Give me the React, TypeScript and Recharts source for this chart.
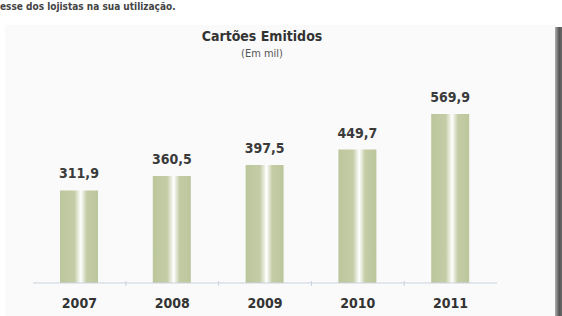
import React from 'react';
import { BarChart, Bar, XAxis, YAxis, LabelList } from 'recharts';

const years = ['2007', '2008', '2009', '2010', '2011'];
const cards = [311.9, 360.5, 397.5, 449.7, 569.9];

const data = years.map((year, i) => ({ year, value: cards[i] }));

const font = '"DejaVu Sans Condensed", "Liberation Sans", sans-serif';

const YearTick = (props: any) => {
  const { x, y, payload, index } = props;
  const half = payload && payload.offset ? payload.offset : 46.4;
  return (
    <g>
      {index > 0 && (
        <line x1={x - half} x2={x - half} y1={y - 2} y2={y + 3} stroke="#c9d3de" strokeWidth={1} />
      )}
      <text
        x={x}
        y={y + 20}
        textAnchor="middle"
        dominantBaseline="central"
        fontFamily={font}
        fontWeight="bold"
        fontSize={14}
        fill="#333"
      >
        {payload.value}
      </text>
    </g>
  );
};

const App: React.FC = () => {
  return (
    <div
      style={{
        position: 'absolute',
        left: 0,
        top: 0,
        width: 562,
        height: 316,
        overflow: 'hidden',
        background: '#fff',
        fontFamily: font,
      }}
    >
      <div
        style={{
          position: 'absolute',
          left: 0,
          top: 1,
          fontSize: 10,
          lineHeight: '12px',
          fontWeight: 'bold',
          color: '#444',
        }}
      >
        esse dos lojistas na sua utilização.
      </div>
      <div
        style={{
          position: 'absolute',
          left: 5,
          top: 25,
          width: 551,
          height: 291,
          background: '#fafafa',
        }}
      />
      <div
        style={{
          position: 'absolute',
          left: 555,
          top: 27,
          width: 7,
          height: 289,
          background: 'linear-gradient(to right, #b0b0b0, #555 60%, #6a6a6a)',
        }}
      />
      <div
        style={{
          position: 'absolute',
          left: 0,
          top: 28,
          width: 524,
          textAlign: 'center',
          fontSize: 14,
          fontWeight: 'bold',
          color: '#333',
        }}
      >
        Cartões Emitidos
      </div>
      <div
        style={{
          position: 'absolute',
          left: 0,
          top: 47,
          width: 524,
          textAlign: 'center',
          fontSize: 11,
          color: '#555',
        }}
      >
        (Em mil)
      </div>
      <div style={{ position: 'absolute', left: 0, top: 0 }}>
        <BarChart
          width={562}
          height={316}
          data={data}
          margin={{ top: 105, right: 65, bottom: 3, left: 33 }}
        >
          <defs>
            <linearGradient id="barFill" x1="0" y1="0" x2="1" y2="0">
              <stop offset="0%" stopColor="#bcc69b" />
              <stop offset="38%" stopColor="#c4cca6" />
              <stop offset="55%" stopColor="#ffffff" />
              <stop offset="70%" stopColor="#c4cca6" />
              <stop offset="100%" stopColor="#bcc69b" />
            </linearGradient>
          </defs>
          <XAxis
            dataKey="year"
            height={30}
            axisLine={{ stroke: '#c9d3de', strokeWidth: 1 }}
            tickLine={false}
            tickSize={0}
            tickMargin={0}
            tick={<YearTick />}
            interval={0}
          />
          <YAxis hide domain={[0, 600]} />
          <Bar dataKey="value" fill="url(#barFill)" barSize={38} isAnimationActive={false}>
            <LabelList
              dataKey="value"
              position="top"
              offset={12}
              formatter={(v: any) => String(v).replace('.', ',')}
              style={{ fontFamily: font, fontWeight: 'bold', fontSize: 14, fill: '#3a3a3a' }}
            />
          </Bar>
        </BarChart>
      </div>
    </div>
  );
};

export default App;
